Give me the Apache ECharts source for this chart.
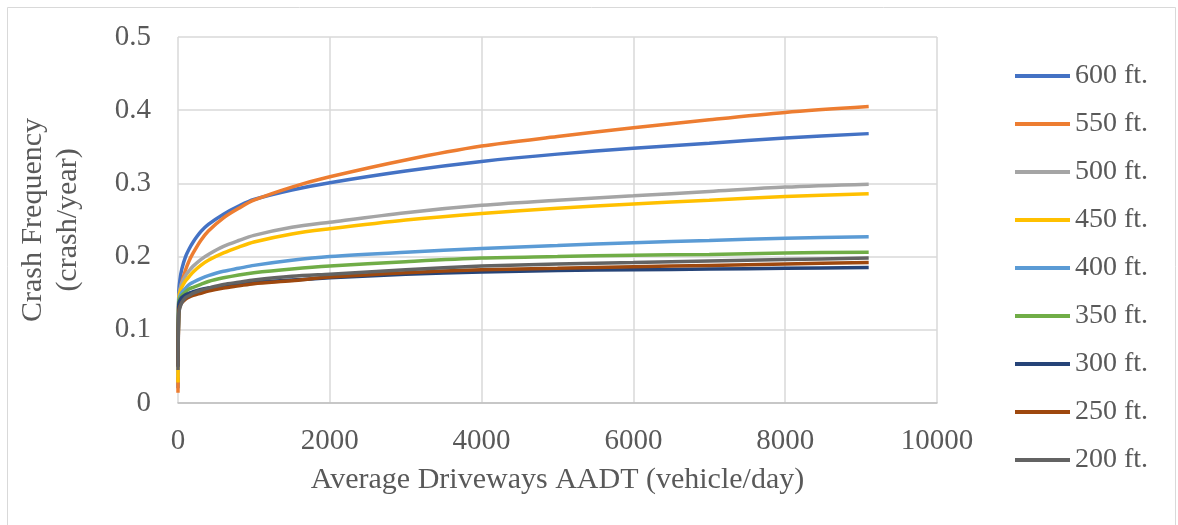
<!DOCTYPE html>
<html>
<head>
<meta charset="utf-8">
<script src="https://cdn.jsdelivr.net/npm/echarts@6/dist/echarts.min.js"></script>
<style>
html,body{margin:0;padding:0;background:#fff;}
#chart{width:1178px;height:525px;}
</style>
</head>
<body>
<div id="chart"></div>
<script>
const aadt = [0, 10, 25, 50, 100, 150, 200, 300, 400, 600, 800, 1000, 1500, 2000, 3000, 4000, 5000, 6000, 7000, 8000, 9100];
const s600 = [0.020, 0.150, 0.168, 0.183, 0.200, 0.211, 0.220, 0.234, 0.244, 0.258, 0.269, 0.278, 0.291, 0.301, 0.317, 0.330, 0.340, 0.348, 0.355, 0.362, 0.368];
const s550 = [0.014, 0.140, 0.152, 0.165, 0.182, 0.195, 0.205, 0.222, 0.235, 0.253, 0.266, 0.277, 0.295, 0.309, 0.332, 0.351, 0.364, 0.376, 0.387, 0.397, 0.405];
const s500 = [0.035, 0.145, 0.155, 0.164, 0.174, 0.181, 0.187, 0.196, 0.203, 0.214, 0.222, 0.229, 0.240, 0.247, 0.260, 0.270, 0.277, 0.283, 0.289, 0.295, 0.299];
const s450 = [0.028, 0.142, 0.151, 0.158, 0.167, 0.173, 0.179, 0.188, 0.195, 0.205, 0.213, 0.220, 0.231, 0.238, 0.250, 0.259, 0.266, 0.272, 0.277, 0.282, 0.286];
const s400 = [0.050, 0.140, 0.146, 0.151, 0.157, 0.162, 0.165, 0.170, 0.174, 0.180, 0.184, 0.188, 0.195, 0.200, 0.206, 0.211, 0.215, 0.219, 0.222, 0.225, 0.227];
const s350 = [0.050, 0.138, 0.143, 0.147, 0.152, 0.156, 0.158, 0.162, 0.166, 0.171, 0.175, 0.178, 0.183, 0.187, 0.193, 0.198, 0.200, 0.202, 0.203, 0.205, 0.206];
const s300 = [0.050, 0.135, 0.140, 0.144, 0.148, 0.150, 0.152, 0.155, 0.157, 0.160, 0.163, 0.165, 0.168, 0.171, 0.176, 0.179, 0.181, 0.182, 0.183, 0.184, 0.185];
const s250 = [0.050, 0.125, 0.132, 0.137, 0.142, 0.145, 0.147, 0.150, 0.153, 0.157, 0.160, 0.163, 0.167, 0.172, 0.178, 0.182, 0.184, 0.186, 0.188, 0.190, 0.192];
const s200 = [0.045, 0.122, 0.130, 0.137, 0.144, 0.147, 0.150, 0.154, 0.157, 0.162, 0.165, 0.168, 0.173, 0.176, 0.182, 0.187, 0.190, 0.192, 0.194, 0.196, 0.198];

const seriesNames = ['600 ft.', '550 ft.', '500 ft.', '450 ft.', '400 ft.', '350 ft.', '300 ft.', '250 ft.', '200 ft.'];
const seriesValues = [s600, s550, s500, s450, s400, s350, s300, s250, s200];
const colors = ['#4472C4', '#ED7D31', '#A5A5A5', '#FFC000', '#5B9BD5', '#70AD47', '#264478', '#9E480E', '#636363'];

const font = '"Liberation Serif", "Times New Roman", serif';
const textColor = '#595959';

const chart = echarts.init(document.getElementById('chart'), null, {renderer: 'canvas'});
chart.setOption({
  animation: false,
  backgroundColor: '#fff',
  color: colors,
  graphic: [{
    type: 'rect',
    shape: {x: 7.5, y: 7.5, width: 1168, height: 530},
    style: {fill: 'none', stroke: '#d9d9d9', lineWidth: 1},
    silent: true, z: -1
  }],
  grid: {left: 178, top: 37, right: 241, bottom: 122, containLabel: false},
  legend: {
    orient: 'vertical',
    left: 1010,
    top: 57,
    itemGap: 20,
    itemWidth: 55,
    itemHeight: 4,
    icon: 'rect',
    textStyle: {fontFamily: font, fontSize: 28, color: textColor, lineHeight: 28},
    data: seriesNames
  },
  xAxis: {
    type: 'value',
    min: 0, max: 10000, interval: 2000,
    name: 'Average Driveways AADT (vehicle/day)',
    nameLocation: 'middle',
    nameGap: 62,
    nameTextStyle: {fontFamily: font, fontSize: 30, color: textColor},
    axisLine: {show: true, lineStyle: {color: '#bfbfbf', width: 1.5}},
    axisTick: {show: false},
    axisLabel: {fontFamily: font, fontSize: 29, color: textColor, margin: 24, formatter: v => String(v)},
    splitLine: {show: true, lineStyle: {color: '#d9d9d9', width: 1.5}}
  },
  yAxis: {
    type: 'value',
    min: 0, max: 0.5, interval: 0.1,
    name: 'Crash Frequency\n(crash/year)',
    nameLocation: 'middle',
    nameGap: 92,
    nameTextStyle: {fontFamily: font, fontSize: 30, color: textColor, lineHeight: 35, align: 'center'},
    axisLine: {show: false},
    axisTick: {show: false},
    axisLabel: {fontFamily: font, fontSize: 29, color: textColor, margin: 27},
    splitLine: {show: true, lineStyle: {color: '#d9d9d9', width: 1.5}}
  },
  series: seriesNames.map((name, i) => ({
    name: name,
    type: 'line',
    data: aadt.map((x, j) => [x, seriesValues[i][j]]),
    showSymbol: false,
    symbol: 'none',
    smooth: 0.3,
    lineStyle: {width: 3.5, color: colors[i]},
    itemStyle: {color: colors[i]}
  }))
});
</script>
</body>
</html>
